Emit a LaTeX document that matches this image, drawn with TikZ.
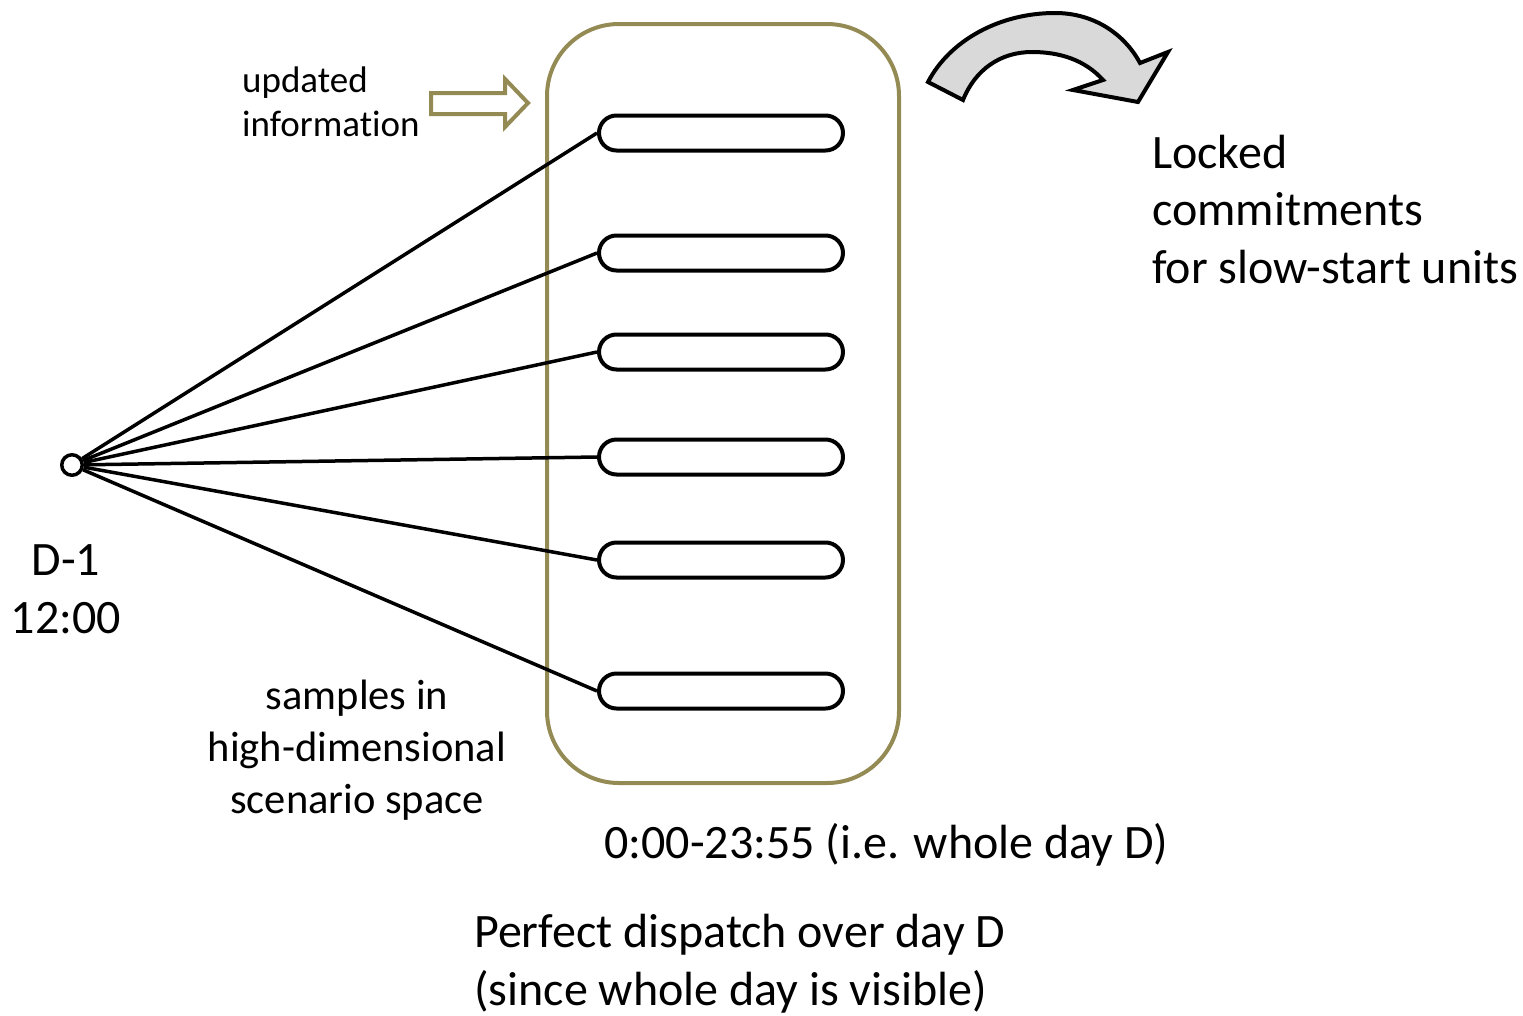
\documentclass[tikz,border=0pt]{standalone}
\usepackage{fontspec}
\setmainfont[Ligatures={NoCommon}]{Carlito}
\definecolor{frameol}{HTML}{948A54}
\definecolor{arrgray}{HTML}{D9D9D9}
\begin{document}
\begin{tikzpicture}[x=1pt,y=-1pt,
  sample/.style={draw, line width=4pt, rounded corners=17.5pt, minimum width=244pt, minimum height=35pt, inner sep=0pt},
  frame/.style={draw=frameol, line width=4pt, rounded corners=72pt, minimum width=352pt, minimum height=759pt, inner sep=0pt},
  origin/.style={circle, draw, line width=3.5pt, fill=white, minimum size=20.5pt, inner sep=0pt},
  spoke/.style={line width=3.5pt},
  bigtext/.style={inner sep=0pt, font=\fontsize{48}{57.5}\selectfont},
  midtext/.style={inner sep=0pt, font=\fontsize{42.5}{52}\selectfont},
  smalltext/.style={inner sep=0pt, font=\fontsize{37}{44}\selectfont}]
\useasboundingbox (0,0) rectangle (1523,1015);
\fill[white] (0,0) rectangle (1523,1015);

\node[frame] (box) at (723,403.5) {};

\node[sample] (s1) at (721,133) {};
\node[sample] (s2) at (721,253) {};
\node[sample] (s3) at (721,352) {};
\node[sample] (s4) at (721,457) {};
\node[sample] (s5) at (721,560) {};
\node[sample] (s6) at (721,691) {};

\node[origin] (o) at (72,465) {};
\foreach \i in {1,...,6} \draw[spoke] (o) -- (s\i.west);

% hollow arrow
\draw[draw=frameol, line width=4pt, fill=white, line join=miter]
  (431,93) -- (505,93) -- (505,79) -- (528,103) -- (505,127) -- (505,114) -- (431,114) -- cycle;

% curved arrow
\draw[line width=4pt, fill=arrgray, line join=miter]
  (928,82) .. controls (950,40) and (1000,13) .. (1055,13)
  .. controls (1095,13) and (1125,35) .. (1140,63)
  -- (1168,52) -- (1138,102) -- (1073,90) -- (1103,80)
  .. controls (1085,60) and (1060,52) .. (1032,52)
  .. controls (1000,52) and (975,70) .. (963,100) -- cycle;

\node[smalltext, anchor=base west, align=left] (upd) at (242,136) {updated\\information};
\node[bigtext, anchor=base west, align=left] (lock) at (1152,283) {Locked\\commitments\\for slow-start units};
\node[bigtext, anchor=base, align=center] (time) at (66,633) {D-1\\12:00};
\node[midtext, anchor=base, align=center] (samp) at (357,813) {samples in\\high-dimensional\\scenario space};
\node[bigtext, anchor=base west] (day) at (604,858) {0:00-23:55 (i.e. whole day D)};
\node[bigtext, anchor=base west, align=left] (perf) at (474,1005) {Perfect dispatch over day D\\(since whole day is visible)};
\end{tikzpicture}
\end{document}
